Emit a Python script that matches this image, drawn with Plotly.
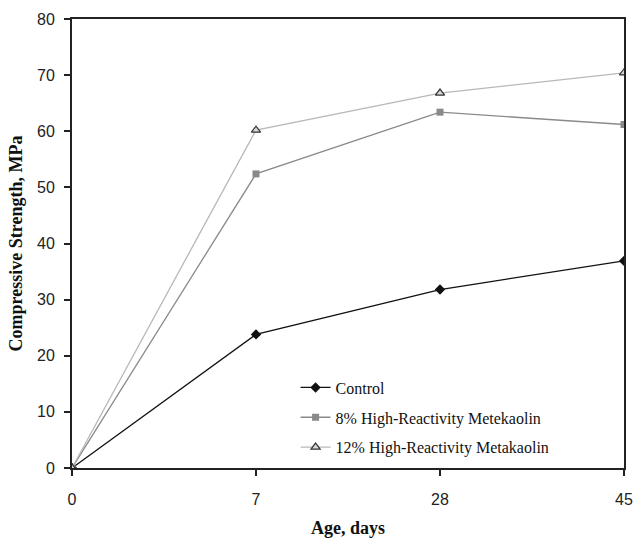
import plotly.graph_objects as go

ages = ["0", "7", "28", "45"]
control = [0, 23.8, 31.8, 36.9]
mk8 = [0, 52.4, 63.4, 61.2]
mk12 = [0, 60.2, 66.8, 70.4]
series_names = ["Control", "8% High-Reactivity Metekaolin", "12% High-Reactivity Metakaolin"]
y_ticks = [0, 10, 20, 30, 40, 50, 60, 70, 80]

x_idx = list(range(len(ages)))

fig = go.Figure()
fig.add_trace(go.Scatter(
    x=x_idx, y=control, name=series_names[0], mode="lines+markers",
    line=dict(color="#111111", width=1.3),
    marker=dict(symbol="diamond", size=8, color="#111111"),
    legendgroup="a"))
fig.add_trace(go.Scatter(
    x=x_idx, y=mk8, name=series_names[1], mode="lines+markers",
    line=dict(color="#8a8a8a", width=1.3),
    marker=dict(symbol="square", size=7, color="#8a8a8a"),
    legendgroup="b"))
fig.add_trace(go.Scatter(
    x=x_idx, y=mk12, name=series_names[2], mode="lines+markers",
    line=dict(color="#b8b8b8", width=1.3),
    marker=dict(symbol="triangle-up", size=8, color="#d8d8d8",
                line=dict(color="#333333", width=1.2)),
    legendgroup="c"))

axis_font = dict(family="Liberation Sans, Arial, sans-serif", size=16, color="#222222")
title_font = dict(family="Liberation Serif, Times New Roman, serif", size=18, color="#111111")

fig.update_layout(
    width=644, height=546,
    margin=dict(l=72, r=11, t=18, b=74),
    paper_bgcolor="white", plot_bgcolor="white",
    showlegend=True,
    legend=dict(
        x=0.405, y=0.217, xanchor="left", yanchor="top",
        font=dict(family="Liberation Serif, Times New Roman, serif", size=16, color="#111111"),
        bgcolor="rgba(0,0,0,0)", tracegroupgap=6, itemwidth=30,
    ),
    xaxis=dict(
        tickmode="array", tickvals=x_idx, ticktext=ages,
        range=[0, len(ages) - 1],
        showline=True, linecolor="#222222", linewidth=2, mirror=True,
        ticks="outside", ticklen=6, tickcolor="#222222", tickwidth=2,
        tickfont=axis_font, showgrid=False, zeroline=False,
        ticklabelstandoff=10,
        title=dict(text="<b>Age, days</b>", font=title_font, standoff=14),
    ),
    yaxis=dict(
        tickvals=y_ticks, range=[0, 80],
        showline=True, linecolor="#222222", linewidth=2, mirror=True,
        ticks="outside", ticklen=6, tickcolor="#222222", tickwidth=2,
        tickfont=axis_font, showgrid=False, zeroline=False,
        ticklabelstandoff=6,
        title=dict(text="<b>Compressive Strength, MPa</b>", font=title_font, standoff=10),
    ),
)

fig.write_html(
    "out.html",
    config={"displayModeBar": False},
    post_script="document.body.style.margin='0';document.body.style.padding='0';",
)
